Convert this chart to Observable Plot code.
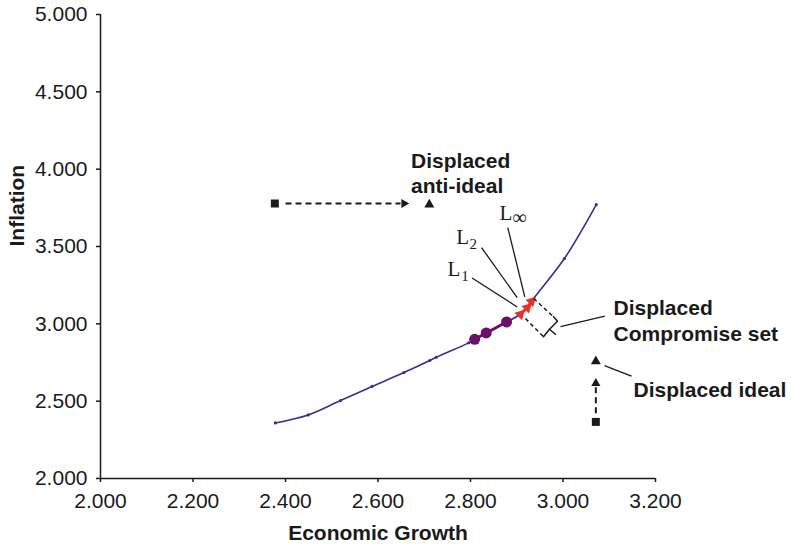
<!DOCTYPE html>
<html>
<head>
<meta charset="utf-8">
<script src="https://cdn.jsdelivr.net/npm/d3@7"></script>
<script src="https://cdn.jsdelivr.net/npm/@observablehq/plot@0.6"></script>
<style>
  body { margin: 0; background: #fff; }
</style>
</head>
<body>
<div id="chart"></div>
<script>
// Axis ticks
const xTicks = [2.0, 2.2, 2.4, 2.6, 2.8, 3.0, 3.2];
const yTicks = [2.0, 2.5, 3.0, 3.5, 4.0, 4.5, 5.0];

// Efficient frontier (Economic Growth vs Inflation)
const growth    = [2.378, 2.449, 2.519, 2.587, 2.656, 2.712, 2.726, 2.796, 2.809, 2.834, 2.878, 2.908, 2.923, 2.932, 3.003, 3.072];
const inflation = [2.359, 2.411, 2.504, 2.595, 2.685, 2.763, 2.784, 2.877, 2.900, 2.941, 3.012, 3.062, 3.105, 3.146, 3.422, 3.771];

// Compromise set (purple circles) and displaced compromise set (red triangles)
const compromiseX = [2.809, 2.834, 2.878];
const compromiseY = [2.900, 2.941, 3.012];
const displacedX  = [2.908, 2.923, 2.932];
const displacedY  = [3.062, 3.105, 3.146];

// Ideal / anti-ideal points (squares) and displaced ones (triangles)
const pointX = [2.377, 3.071];
const pointY = [3.778, 2.366];
const displacedPointX = [2.711, 3.071];
const displacedPointY = [3.771, 2.758];

// Dashed displacement arrows: shafts and heads
const arrowX1 = [2.400, 3.071];
const arrowY1 = [3.778, 2.422];
const arrowX2 = [2.6486, 3.071];
const arrowY2 = [3.778, 2.603];
const headX = [2.6562, 3.071];
const headY = [3.778, 2.6154];
const headRotate = [90, 0];

// Displaced compromise region outline (dashed edges) and brace (solid)
const regionEdgeX1 = [2.9366, 2.9189];
const regionEdgeY1 = [3.1635, 3.0343];
const regionEdgeX2 = [2.9795, 2.9578];
const regionEdgeY2 = [3.0459, 2.9166];
const braceX = [2.9795, 2.9881, 2.9708, 2.9578];
const braceY = [3.0459, 3.0168, 2.9651, 2.9166];
const braceTipX = [2.9708, 2.9838];
const braceTipY = [2.9651, 2.9328];

// Leader lines: L1, L2, L-infinity, compromise set, ideal
const leaderX1 = [2.8034, 2.8238, 2.8806, 2.9946, 3.0897];
const leaderY1 = [3.2967, 3.4932, 3.6225, 2.9813, 2.7304];
const leaderX2 = [2.9009, 2.9009, 2.9174, 3.0904, 3.1481];
const leaderY2 = [3.1093, 3.1700, 3.1739, 3.0491, 2.6613];

// Bold annotations
const annotText = ["Displaced", "anti-ideal", "Displaced", "Compromise set", "Displaced ideal"];
const annotX = [2.6715, 2.6715, 3.1092, 3.1092, 3.1524];
const annotY = [4.054, 3.892, 3.103, 2.935, 2.573];

// Distance metric labels L1, L2, L∞
const metricText = ["L", "L", "L"];
const metricX = [2.7503, 2.7691, 2.8627];
const metricY = [3.3510, 3.5624, 3.7130];
const subText = ["1", "2", "∞"];
const subX = [2.7800, 2.7980, 2.8900];
const subY = [3.3084, 3.5178, 3.6850];
const subSize = [15, 15, 20];

const idx = a => d3.range(a.length);
const fmt = d3.format(".3f");
const ink = "#1a1a1a";
const blue = "#3b2e8f";
const purple = "#6a0f6a";
const red = "#e5322a";

const chart = Plot.plot({
  width: 791,
  height: 546,
  marginLeft: 100,
  marginRight: 136,
  marginTop: 14,
  marginBottom: 68,
  style: {
    fontFamily: "'Liberation Sans', Arial, sans-serif",
    fontSize: "21px",
    color: ink,
    background: "#fff",
    overflow: "visible"
  },
  x: {domain: [2, 3.2]},
  y: {domain: [2, 5]},
  marks: [
    Plot.axisX(xTicks, {tickFormat: fmt, tickSize: 4, tickPadding: 11, label: null, strokeWidth: 1.5, fontSize: 21}),
    Plot.axisY(yTicks, {tickFormat: fmt, tickSize: 4, tickPadding: 9, label: null, strokeWidth: 1.5, fontSize: 21}),
    Plot.ruleX([2], {stroke: ink, strokeWidth: 1.5}),
    Plot.ruleY([2], {stroke: ink, strokeWidth: 1.5}),
    Plot.text(["Economic Growth"], {frameAnchor: "bottom", dy: 61, fontWeight: "bold", fontSize: 21, fill: ink}),
    Plot.text(["Inflation"], {frameAnchor: "left", dx: -83, rotate: -90, fontWeight: "bold", fontSize: 21, fill: ink}),

    // frontier curve
    Plot.line(idx(growth), {x: i => growth[i], y: i => inflation[i], stroke: blue, strokeWidth: 1.6, curve: "catmull-rom"}),
    Plot.dot(idx(growth), {x: i => growth[i], y: i => inflation[i], r: 1.6, fill: blue, stroke: "none"}),

    // compromise set
    Plot.line(idx(compromiseX), {x: i => compromiseX[i], y: i => compromiseY[i], stroke: purple, strokeWidth: 3}),
    Plot.dot(idx(compromiseX), {x: i => compromiseX[i], y: i => compromiseY[i], r: 5.5, fill: purple, stroke: "none"}),
    Plot.line(idx(displacedX), {x: i => displacedX[i], y: i => displacedY[i], stroke: red, strokeWidth: 3}),
    Plot.dot(idx(displacedX), {x: i => displacedX[i], y: i => displacedY[i], r: 4, symbol: "triangle", rotate: 45, fill: red, stroke: "none"}),

    // displaced region
    Plot.link(idx(regionEdgeX1), {x1: i => regionEdgeX1[i], y1: i => regionEdgeY1[i], x2: i => regionEdgeX2[i], y2: i => regionEdgeY2[i], stroke: ink, strokeWidth: 1.5, strokeDasharray: "4,3"}),
    Plot.line(idx(braceX), {x: i => braceX[i], y: i => braceY[i], stroke: ink, strokeWidth: 1.5}),
    Plot.line(idx(braceTipX), {x: i => braceTipX[i], y: i => braceTipY[i], stroke: ink, strokeWidth: 1.5}),

    // leader lines
    Plot.link(idx(leaderX1), {x1: i => leaderX1[i], y1: i => leaderY1[i], x2: i => leaderX2[i], y2: i => leaderY2[i], stroke: ink, strokeWidth: 1.3}),

    // ideal / anti-ideal
    Plot.link(idx(arrowX1), {x1: i => arrowX1[i], y1: i => arrowY1[i], x2: i => arrowX2[i], y2: i => arrowY2[i], stroke: ink, strokeWidth: 2, strokeDasharray: "6,4"}),
    Plot.dot(idx(headX), {x: i => headX[i], y: i => headY[i], r: 3.4, symbol: "triangle", rotate: i => headRotate[i], fill: ink, stroke: "none"}),
    Plot.dot(idx(pointX), {x: i => pointX[i], y: i => pointY[i], r: 4.5, symbol: "square", fill: ink, stroke: "none"}),
    Plot.dot(idx(displacedPointX), {x: i => displacedPointX[i], y: i => displacedPointY[i], r: 3.7, symbol: "triangle", fill: ink, stroke: "none"}),

    // annotations
    Plot.text(idx(annotText), {x: i => annotX[i], y: i => annotY[i], text: i => annotText[i], textAnchor: "start", fontWeight: "bold", fontSize: 21, fill: ink}),
    Plot.text(idx(metricText), {x: i => metricX[i], y: i => metricY[i], text: i => metricText[i], textAnchor: "start", fontFamily: "'Liberation Serif', 'Times New Roman', serif", fontSize: 21, fill: ink}),
    Plot.text(idx(subText), {x: i => subX[i], y: i => subY[i], text: i => subText[i], textAnchor: "start", fontFamily: "'Liberation Serif', 'Times New Roman', serif", fontSize: i => subSize[i], fill: ink})
  ]
});

document.getElementById("chart").appendChild(chart);
</script>
</body>
</html>
